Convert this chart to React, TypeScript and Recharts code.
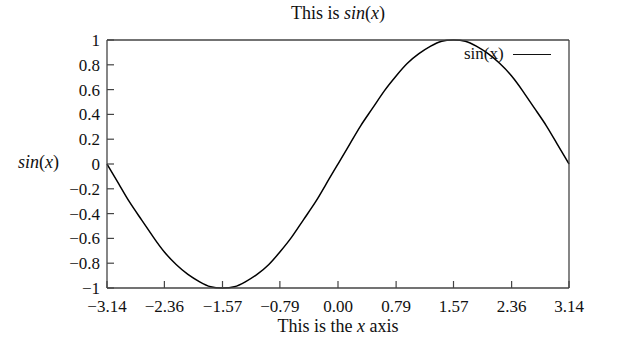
import React from 'react';
import { LineChart, Line, XAxis, YAxis, Legend } from 'recharts';

// x samples (radians) and sin(x)
const xValues = [
  -3.14, -2.98, -2.83, -2.67, -2.51, -2.36, -2.2, -2.04, -1.88, -1.73, -1.57,
  -1.41, -1.26, -1.1, -0.94, -0.79, -0.63, -0.47, -0.31, -0.16, 0,
  0.16, 0.31, 0.47, 0.63, 0.79, 0.94, 1.1, 1.26, 1.41, 1.57,
  1.73, 1.88, 2.04, 2.2, 2.36, 2.51, 2.67, 2.83, 2.98, 3.14,
];
const sinValues = [
  0, -0.16, -0.31, -0.45, -0.59, -0.71, -0.81, -0.89, -0.95, -0.99, -1,
  -0.99, -0.95, -0.89, -0.81, -0.71, -0.59, -0.45, -0.31, -0.16, 0,
  0.16, 0.31, 0.45, 0.59, 0.71, 0.81, 0.89, 0.95, 0.99, 1,
  0.99, 0.95, 0.89, 0.81, 0.71, 0.59, 0.45, 0.31, 0.16, 0,
];
const xTicks = [-3.14, -2.36, -1.57, -0.79, 0, 0.79, 1.57, 2.36, 3.14];
const yTicks = [-1, -0.8, -0.6, -0.4, -0.2, 0, 0.2, 0.4, 0.6, 0.8, 1];

const data = xValues.map((x, i) => ({ x, y: sinValues[i] }));

const FONT = '"Liberation Serif", "DejaVu Serif", serif';
const AXIS = '#444';
const minus = (s: string) => s.replace('-', '\u2212');

const tickStyle = { fontSize: 17, fill: '#111', fontFamily: FONT };

const LegendBox = () => (
  <div style={{ display: 'flex', alignItems: 'center', fontFamily: FONT, fontSize: 17, color: '#111' }}>
    <span>sin(x)</span>
    <span style={{ display: 'inline-block', width: 38, height: 0, borderTop: '1.5px solid #111', marginLeft: 9 }} />
  </div>
);

export default function App() {
  return (
    <div style={{ position: 'absolute', left: 0, top: 0, width: 638, height: 350, background: '#fff' }}>
      <div
        style={{
          position: 'absolute', left: 107, width: 462, top: 3, textAlign: 'center',
          fontFamily: FONT, fontSize: 18, color: '#111',
        }}
      >
        This is <i>sin</i>(<i>x</i>)
      </div>
      <div
        style={{
          position: 'absolute', left: 0, width: 59, top: 152, textAlign: 'right',
          fontFamily: FONT, fontSize: 18, color: '#111',
        }}
      >
        <i>sin</i>(<i>x</i>)
      </div>
      <div
        style={{
          position: 'absolute', left: 107, width: 462, top: 316, textAlign: 'center',
          fontFamily: FONT, fontSize: 18, color: '#111',
        }}
      >
        This is the <i>x</i> axis
      </div>
      <LineChart width={638} height={350} data={data} margin={{ top: 39, right: 68, bottom: 32, left: 47 }}>
        <XAxis
          dataKey="x"
          type="number"
          domain={[-3.14, 3.14]}
          ticks={xTicks}
          tickFormatter={(v: number) => minus(v.toFixed(2))}
          interval={0}
          height={30}
          axisLine={{ stroke: AXIS, strokeWidth: 1.3 }}
          tickLine={{ stroke: AXIS, strokeWidth: 1.2 }}
          tickSize={-7}
          tickMargin={19}
          tick={tickStyle}
        />
        <XAxis
          xAxisId="top"
          dataKey="x"
          type="number"
          orientation="top"
          domain={[-3.14, 3.14]}
          ticks={xTicks}
          interval={0}
          height={1}
          axisLine={{ stroke: AXIS, strokeWidth: 1.3 }}
          tickLine={{ stroke: AXIS, strokeWidth: 1.2 }}
          tickSize={-7}
          tick={false}
        />
        <YAxis
          type="number"
          domain={[-1, 1]}
          ticks={yTicks}
          tickFormatter={(v: number) => minus(String(Math.round(v * 10) / 10))}
          interval={0}
          width={60}
          axisLine={{ stroke: AXIS, strokeWidth: 1.3 }}
          tickLine={{ stroke: AXIS, strokeWidth: 1.2 }}
          tickSize={-7}
          tickMargin={14}
          tick={tickStyle}
        />
        <YAxis
          yAxisId="right"
          type="number"
          orientation="right"
          domain={[-1, 1]}
          ticks={yTicks}
          interval={0}
          width={1}
          axisLine={{ stroke: AXIS, strokeWidth: 1.3 }}
          tickLine={{ stroke: AXIS, strokeWidth: 1.2 }}
          tickSize={-7}
          tick={false}
        />
        <Legend
          content={LegendBox}
          layout="vertical"
          verticalAlign="middle"
          align="center"
          wrapperStyle={{ position: 'absolute', left: 464, top: 44, width: 'auto', height: 'auto' }}
        />
        <Line
          type="natural"
          dataKey="y"
          stroke="#000"
          strokeWidth={1.5}
          dot={false}
          isAnimationActive={false}
        />
      </LineChart>
    </div>
  );
}
